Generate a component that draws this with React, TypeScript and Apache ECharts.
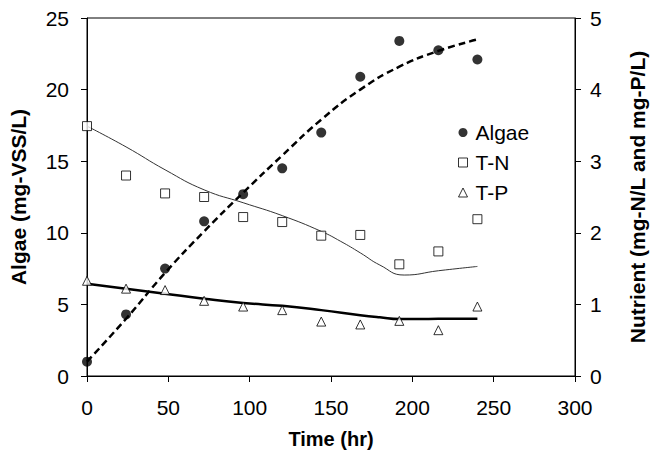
import React, { useEffect, useRef } from "react";
import * as echarts from "echarts";

const times = [0, 24, 48, 72, 96, 120, 144, 168, 192, 216, 240];
const algaeObs = [1.0, 4.3, 7.5, 10.8, 12.7, 14.5, 17.0, 20.9, 23.4, 22.75, 22.1];
const tnObs = [3.49, 2.8, 2.55, 2.5, 2.22, 2.15, 1.96, 1.97, 1.56, 1.74, 2.19];
const tpObs = [1.33, 1.22, 1.2, 1.05, 0.97, 0.92, 0.76, 0.72, 0.77, 0.64, 0.97];

const algaeFitT = [0, 24, 48, 72, 96, 120, 144, 168, 192, 216, 240];
const algaeFit = [1.0, 4.0, 7.2, 10.1, 12.8, 15.4, 17.9, 20.0, 21.6, 22.7, 23.5];
const tnFitT = [0, 24, 48, 72, 96, 120, 144, 156, 168, 180, 195, 216, 240];
const tnFit = [3.49, 3.2, 2.88, 2.6, 2.42, 2.24, 2.02, 1.88, 1.72, 1.55, 1.41, 1.47, 1.53];
const tpFitT = [0, 24, 48, 72, 96, 120, 144, 168, 180, 192, 204, 216, 240];
const tpFit = [1.29, 1.22, 1.15, 1.08, 1.02, 0.98, 0.92, 0.85, 0.82, 0.795, 0.795, 0.8, 0.8];

const xTicks = { min: 0, max: 300, interval: 50 };
const leftTicks = { min: 0, max: 25, interval: 5 };
const rightTicks = { min: 0, max: 5, interval: 1 };

const FONT = "'Liberation Sans', Arial, sans-serif";

const pairs = (xs: number[], ys: number[]) => xs.map((t, i) => [t, ys[i]]);

export default function App() {
  const ref = useRef<HTMLDivElement>(null);
  useEffect(() => {
    if (!ref.current) return;
    const chart = echarts.init(ref.current, undefined, { renderer: "svg" });
    const axisCommon = {
      axisLine: { show: true, lineStyle: { color: "#000", width: 1 } },
      axisTick: { show: true, inside: false, length: 6, lineStyle: { color: "#000" } },
      splitLine: { show: false },
    };
    chart.setOption({
      animation: false,
      backgroundColor: "#fff",
      grid: {
        left: 86,
        right: 78,
        top: 18,
        bottom: 80,
        show: true,
        borderColor: "#000",
        borderWidth: 1,
        backgroundColor: "transparent",
      },
      legend: {
        orient: "vertical",
        left: 458,
        top: 122,
        itemWidth: 9,
        itemHeight: 9,
        itemGap: 9,
        padding: 0,
        textStyle: { fontSize: 21, color: "#000", fontFamily: FONT, padding: [0, 0, 0, 3] },
        data: [
          { name: "Algae", icon: "circle", itemStyle: { color: "#000", borderWidth: 0 } },
          { name: "T-N", icon: "rect", itemStyle: { color: "#fff", borderColor: "#000", borderWidth: 1 } },
          { name: "T-P", icon: "triangle", itemStyle: { color: "#fff", borderColor: "#000", borderWidth: 1 } },
        ],
      },
      xAxis: {
        type: "value",
        ...xTicks,
        ...axisCommon,
        axisLabel: { fontSize: 21, color: "#000", fontFamily: FONT, margin: 21 },
        name: "Time (hr)",
        nameLocation: "middle",
        nameGap: 53,
        nameTextStyle: { fontSize: 20, fontWeight: "bold", color: "#000", fontFamily: FONT },
      },
      yAxis: [
        {
          type: "value",
          position: "left",
          ...leftTicks,
          ...axisCommon,
          axisLabel: { fontSize: 21, color: "#000", fontFamily: FONT, margin: 18 },
          name: "Algae (mg-VSS/L)",
          nameLocation: "middle",
          nameRotate: 90,
          nameGap: 58,
          nameTextStyle: { fontSize: 21, fontWeight: "bold", color: "#000", fontFamily: FONT },
        },
        {
          type: "value",
          position: "right",
          ...rightTicks,
          ...axisCommon,
          axisLabel: { fontSize: 21, color: "#000", fontFamily: FONT, margin: 15 },
          name: "Nutrient (mg-N/L and mg-P/L)",
          nameLocation: "middle",
          nameRotate: 90,
          nameGap: 52,
          nameTextStyle: { fontSize: 21, fontWeight: "bold", color: "#000", fontFamily: FONT },
        },
      ],
      series: [
        {
          name: "Algae fit",
          type: "line",
          yAxisIndex: 0,
          data: pairs(algaeFitT, algaeFit),
          smooth: true,
          symbol: "none",
          lineStyle: { color: "#000", width: 2.5, type: [7, 4] },
          z: 2,
        },
        {
          name: "T-N fit",
          type: "line",
          yAxisIndex: 1,
          data: pairs(tnFitT, tnFit),
          smooth: true,
          symbol: "none",
          lineStyle: { color: "#333", width: 1 },
          z: 2,
        },
        {
          name: "T-P fit",
          type: "line",
          yAxisIndex: 1,
          data: pairs(tpFitT, tpFit),
          smooth: true,
          symbol: "none",
          lineStyle: { color: "#000", width: 2.5 },
          z: 2,
        },
        {
          name: "Algae",
          type: "scatter",
          yAxisIndex: 0,
          data: pairs(times, algaeObs),
          symbol: "circle",
          symbolSize: 10,
          itemStyle: { color: "#000" },
          z: 3,
        },
        {
          name: "T-N",
          type: "scatter",
          yAxisIndex: 1,
          data: pairs(times, tnObs),
          symbol: "rect",
          symbolSize: 9,
          itemStyle: { color: "#fff", borderColor: "#000", borderWidth: 1 },
          z: 3,
        },
        {
          name: "T-P",
          type: "scatter",
          yAxisIndex: 1,
          data: pairs(times, tpObs),
          symbol: "triangle",
          symbolSize: 9,
          itemStyle: { color: "#fff", borderColor: "#000", borderWidth: 1 },
          z: 3,
        },
      ],
    });
    return () => chart.dispose();
  }, []);
  return (
    <div
      ref={ref}
      style={{ position: "fixed", left: 0, top: 0, width: 656, height: 456, background: "#fff" }}
    />
  );
}
